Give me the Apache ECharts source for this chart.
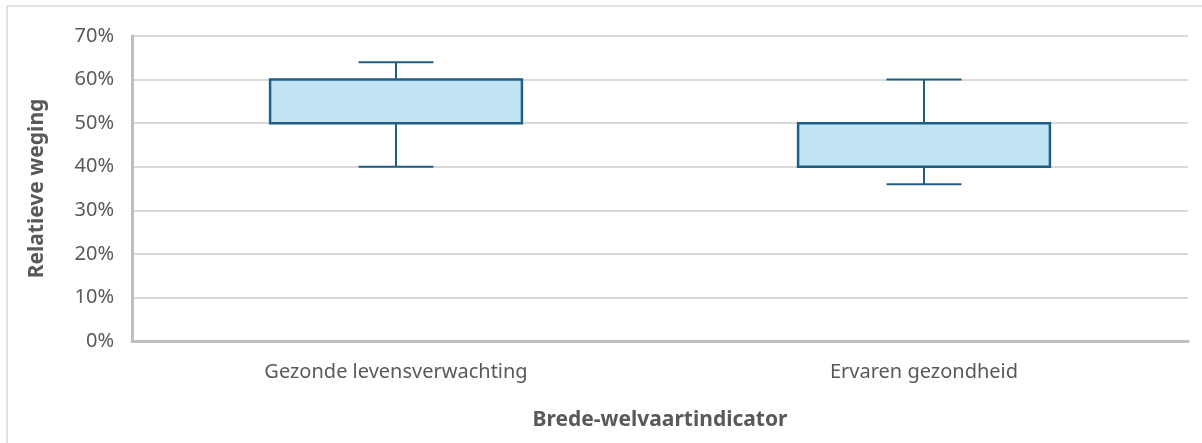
<!DOCTYPE html>
<html>
<head>
<meta charset="utf-8">
<script src="https://cdn.jsdelivr.net/npm/echarts@6/dist/echarts.min.js"></script>
<style>
    html, body { margin: 0; padding: 0; background: #ffffff; }
    #chart { width: 1202px; height: 443px; }
</style>
</head>
<body>
<div id="chart"></div>
<script>
    // boxplot values per indicator (percent)
    const categories = ['Gezonde levensverwachting', 'Ervaren gezondheid'];
    const whiskerLow = [40, 36];
    const boxLow = [50, 40];
    const boxHigh = [60, 50];
    const whiskerHigh = [64, 60];
    const yTicks = [0, 10, 20, 30, 40, 50, 60, 70];

    const lineColor = '#1f5f84';
    const fillColor = '#c1e4f5';
    const textColor = '#595959';
    const font = 'Noto Sans';

    const rows = categories.map((c, i) => [i, whiskerLow[i], boxLow[i], boxHigh[i], whiskerHigh[i]]);

    function renderBox(params, api) {
        const x = api.value(0);
        const lo = api.coord([x, api.value(1)]);
        const q1 = api.coord([x, api.value(2)]);
        const q3 = api.coord([x, api.value(3)]);
        const hi = api.coord([x, api.value(4)]);
        const band = api.size([1, 0])[0];
        const bw = band * 0.477;
        const cw = band * 0.142;
        const cx = lo[0];
        const stroke = { stroke: lineColor, lineWidth: 2, fill: null };
        return {
            type: 'group',
            children: [
                { type: 'line', shape: { x1: cx, y1: hi[1], x2: cx, y2: q3[1] }, style: stroke },
                { type: 'line', shape: { x1: cx, y1: q1[1], x2: cx, y2: lo[1] }, style: stroke },
                { type: 'line', shape: { x1: cx - cw / 2, y1: hi[1], x2: cx + cw / 2, y2: hi[1] }, style: stroke },
                { type: 'line', shape: { x1: cx - cw / 2, y1: lo[1], x2: cx + cw / 2, y2: lo[1] }, style: stroke },
                {
                    type: 'rect',
                    shape: { x: cx - bw / 2, y: q3[1], width: bw, height: q1[1] - q3[1] },
                    style: { fill: fillColor, stroke: lineColor, lineWidth: 2.5 }
                }
            ]
        };
    }

    const chart = echarts.init(document.getElementById('chart'));
    chart.setOption({
        animation: false,
        graphic: [{
            type: 'rect',
            shape: { x: 7, y: 6, width: 1300, height: 500 },
            style: { fill: null, stroke: '#d9d9d9', lineWidth: 1.5 },
            silent: true
        }],
        grid: { left: 132, right: 14, top: 36, bottom: 102 },
        xAxis: {
            type: 'category',
            data: categories,
            name: 'Brede-welvaartindicator',
            nameLocation: 'middle',
            nameGap: 69,
            nameTextStyle: { color: textColor, fontFamily: font, fontSize: 21, fontWeight: 'bold', verticalAlign: 'top' },
            axisLine: { show: true, lineStyle: { color: '#bfbfbf', width: 3 } },
            axisTick: { show: false },
            axisLabel: { color: textColor, fontFamily: font, fontSize: 20, margin: 21 },
            splitLine: { show: false }
        },
        yAxis: {
            type: 'value',
            min: 0,
            max: 70,
            interval: 10,
            name: 'Relatieve weging',
            nameLocation: 'middle',
            nameRotate: 90,
            nameGap: 84,
            nameTextStyle: { color: textColor, fontFamily: font, fontSize: 21, fontWeight: 'bold' },
            axisLine: { show: true, lineStyle: { color: '#bfbfbf', width: 3 } },
            axisTick: { show: false },
            axisLabel: {
                color: textColor, fontFamily: font, fontSize: 20, margin: 18,
                formatter: v => (yTicks.includes(v) ? v + '%' : '')
            },
            splitLine: { show: true, lineStyle: { color: '#cccccc', width: 1.5 } }
        },
        series: [{
            type: 'custom',
            renderItem: renderBox,
            encode: { x: 0, y: [1, 2, 3, 4] },
            data: rows
        }]
    });
</script>
</body>
</html>
